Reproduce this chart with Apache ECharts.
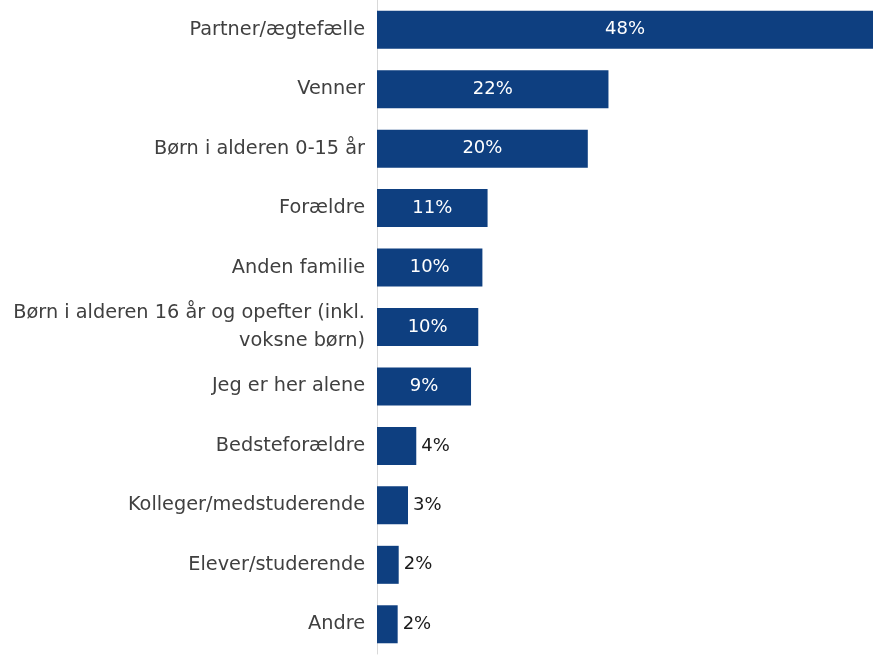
<!DOCTYPE html>
<html><head><meta charset="utf-8">
<script src="https://cdn.jsdelivr.net/npm/echarts@6/dist/echarts.min.js"></script>
<style>html,body{margin:0;padding:0;background:#fff}#c{width:873px;height:657px}</style>
</head><body><div id="c"></div>
<script>
const categories = ["Partner/ægtefælle","Venner","Børn i alderen 0-15 år","Forældre","Anden familie","Børn i alderen 16 år og opefter (inkl.\nvoksne børn)","Jeg er her alene","Bedsteforældre","Kolleger/medstuderende","Elever/studerende","Andre"];
const values = [48, 22.4, 20.4, 10.7, 10.2, 9.8, 9.1, 3.8, 3.0, 2.1, 2.0];
const insideThreshold = 5;

const chart = echarts.init(document.getElementById('c'));
chart.setOption({
  animation:false,
  grid:{left:377,right:0,top:-2,bottom:3,containLabel:false},
  xAxis:{type:'value',min:0,max:48,show:false},
  yAxis:{type:'category',inverse:true,data:categories,
    axisLine:{show:true,lineStyle:{color:'#d9d9d9',width:1}},
    axisTick:{show:false},
    axisLabel:{margin:12,color:'#404040',fontFamily:'DejaVu Sans',fontSize:19.3,lineHeight:28,align:'right'}},
  series:[{type:'bar',barWidth:38,
    data:values.map(v=>({value:v,label:{
      position: v>insideThreshold?'inside':'right',
      color: v>insideThreshold?'#ffffff':'#1a1a1a', distance:5}})),
    itemStyle:{color:'#0e3f80'},
    label:{show:true,fontFamily:'DejaVu Sans',fontSize:18,formatter:p=>Math.round(p.value)+'%'}
  }]
});
</script></body></html>
